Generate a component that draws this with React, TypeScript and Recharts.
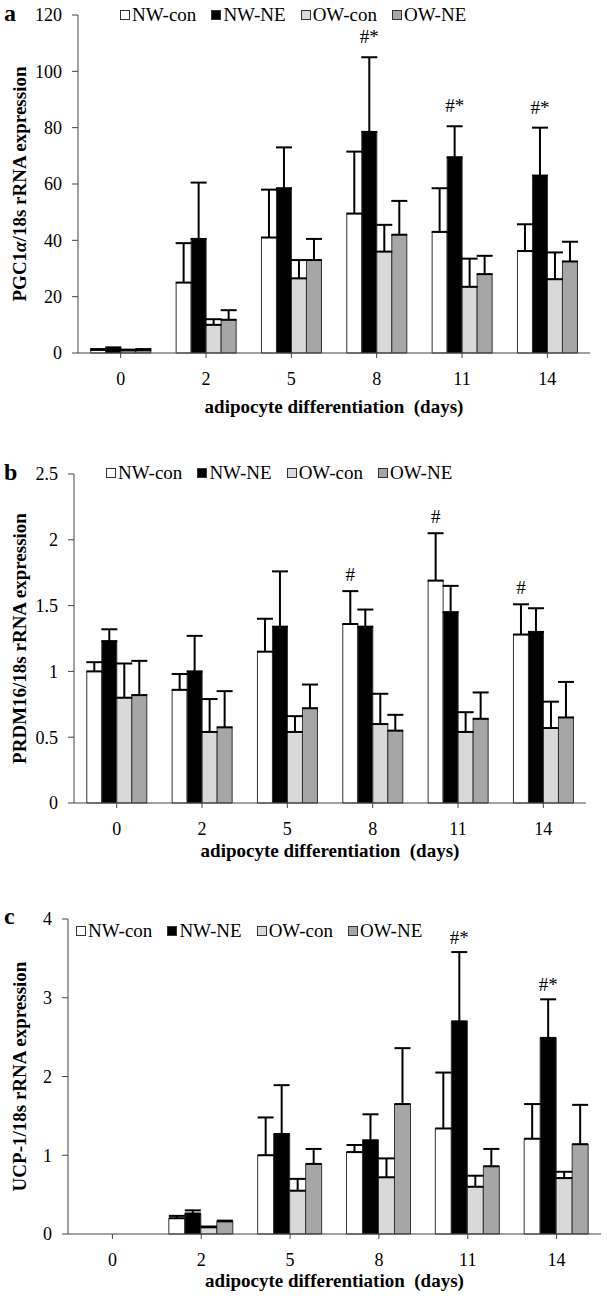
import React from 'react';
import { BarChart, Bar, XAxis, YAxis, ErrorBar, Legend, LabelList, Label } from 'recharts';

const FONT = '"Liberation Serif", "Times New Roman", Times, serif';
const W = 607;

const DAYS = ['0', '2', '5', '8', '11', '14'];
const GROUPS = ['NW-con', 'NW-NE', 'OW-con', 'OW-NE'];
const FILLS = ['#ffffff', '#000000', '#d9d9d9', '#a6a6a6'];

// a: PGC1a / 18s rRNA
const PGC_NW_CON = [1.1, 25, 41, 49.5, 43, 36.2];
const PGC_NW_NE = [1.5, 40.5, 58.5, 78.5, 69.5, 63];
const PGC_OW_CON = [0.9, 10, 26.5, 36, 23.5, 26.2];
const PGC_OW_NE = [1.0, 11.8, 33, 42, 28, 32.5];
const PGC_NW_CON_SD = [0.3, 14, 17, 22, 15.5, 9.5];
const PGC_NW_NE_SD = [0.5, 20, 14.5, 26.5, 11, 17];
const PGC_OW_CON_SD = [0.3, 2, 6.5, 9.5, 10, 9.5];
const PGC_OW_NE_SD = [0.4, 3.4, 7.5, 12, 6.5, 7];
const PGC_MARKS = ['', '', '', '#*', '#*', '#*']; // over NW-NE
const PGC_TICKS = [0, 20, 40, 60, 80, 100, 120];

// b: PRDM16 / 18s rRNA
const PRDM_NW_CON = [1.0, 0.86, 1.15, 1.36, 1.69, 1.28];
const PRDM_NW_NE = [1.23, 1.0, 1.34, 1.34, 1.45, 1.3];
const PRDM_OW_CON = [0.8, 0.54, 0.54, 0.6, 0.54, 0.57];
const PRDM_OW_NE = [0.82, 0.575, 0.72, 0.55, 0.64, 0.65];
const PRDM_NW_CON_SD = [0.07, 0.12, 0.25, 0.25, 0.36, 0.23];
const PRDM_NW_NE_SD = [0.09, 0.27, 0.42, 0.13, 0.2, 0.18];
const PRDM_OW_CON_SD = [0.26, 0.25, 0.12, 0.23, 0.15, 0.2];
const PRDM_OW_NE_SD = [0.26, 0.275, 0.18, 0.12, 0.2, 0.27];
const PRDM_MARKS = ['', '', '', '#', '#', '#']; // over NW-con
const PRDM_TICKS = [0, 0.5, 1, 1.5, 2, 2.5];

// c: UCP-1 / 18s rRNA
const UCP_NW_CON = [0, 0.2, 1.0, 1.04, 1.34, 1.21];
const UCP_NW_NE = [0, 0.26, 1.27, 1.19, 2.7, 2.49];
const UCP_OW_CON = [0, 0.085, 0.55, 0.72, 0.6, 0.71];
const UCP_OW_NE = [0, 0.16, 0.89, 1.65, 0.86, 1.14];
const UCP_NW_CON_SD = [0, 0.03, 0.48, 0.09, 0.71, 0.44];
const UCP_NW_NE_SD = [0, 0.04, 0.62, 0.33, 0.88, 0.49];
const UCP_OW_CON_SD = [0, 0.01, 0.15, 0.24, 0.14, 0.08];
const UCP_OW_NE_SD = [0, 0.01, 0.19, 0.71, 0.22, 0.5];
const UCP_MARKS = ['', '', '', '', '#*', '#*']; // over NW-NE
const UCP_TICKS = [0, 1, 2, 3, 4];

type PanelProps = {
  top: number;
  plotTop: number;
  plotBottom: number;
  plotLeft: number;
  plotRight: number;
  titleGap: number;
  values: number[][];
  sds: number[][];
  markSeries: number;
  marks: string[];
  markGap: number;
  yMax: number;
  yTicks: number[];
  yLabel: React.ReactNode;
  letter: string;
  letterTop: number;
  legendLeft: number;
  legendTop: number;
  catGap: string;
};

const AXIS_H = 64;

function legendContent() {
  return (
    <div style={{ display: 'flex', alignItems: 'center', fontFamily: FONT, fontSize: 19, color: '#000', whiteSpace: 'nowrap' }}>
      {GROUPS.map((g, k) => (
        <span key={g} style={{ display: 'inline-flex', alignItems: 'center', marginRight: k < 3 ? 15 : 0 }}>
          <span style={{ display: 'inline-block', width: 8, height: 8, background: FILLS[k], border: '1px solid #333', marginRight: 2 }} />
          {g}
        </span>
      ))}
    </div>
  );
}

// label value is the row index; the bar's own height gives px per unit
function markContent(marks: string[], vals: number[], sds: number[], gap: number) {
  return (p: any) => {
    const i = Number(p.value);
    const m = marks[i];
    if (!m) return null;
    const x = Number(p.x), y = Number(p.y), w = Number(p.width), h = Number(p.height), v = vals[i];
    const errTop = v > 0 ? y - (sds[i] * h) / v : y;
    return (
      <text key={`m${i}`} x={x + w / 2} y={errTop - gap} textAnchor="middle" fontFamily={FONT} fontSize={19} fill="#000">
        {m}
      </text>
    );
  };
}

function Panel(props: PanelProps) {
  const { top, plotTop, plotBottom, plotLeft, plotRight, titleGap, values, sds } = props;
  const height = plotBottom - top + AXIS_H;
  const rows = DAYS.map((d, i) => {
    const r: any = { day: d, idx: i };
    values.forEach((v, k) => {
      r[`v${k}`] = v[i];
      r[`e${k}`] = [0, sds[k][i]];
    });
    return r;
  });

  return (
    <div style={{ position: 'absolute', left: 0, top, width: W, height }}>
      <BarChart
        width={W}
        height={height}
        data={rows}
        margin={{ top: plotTop - top, right: W - plotRight, left: 0, bottom: 0 }}
        barGap={0}
        barCategoryGap={props.catGap}
      >
        <Legend
          layout="horizontal"
          verticalAlign="middle"
          align="center"
          content={legendContent}
          wrapperStyle={{ left: props.legendLeft, top: props.legendTop, width: 'auto' }}
        />
        <XAxis
          dataKey="day"
          height={AXIS_H}
          interval={0}
          tickSize={5}
          tickMargin={14}
          axisLine={{ stroke: '#444' }}
          tickLine={{ stroke: '#444' }}
          tick={{ fill: '#000', fontSize: 18, fontFamily: FONT }}
          label={{
            value: 'adipocyte differentiation\u00a0 (days)',
            position: 'insideBottom',
            offset: AXIS_H - titleGap,
            fill: '#000',
            fontSize: 19,
            fontWeight: 'bold',
            fontFamily: FONT,
          }}
        />
        <YAxis
          width={plotLeft}
          domain={[0, props.yMax]}
          ticks={props.yTicks}
          interval={0}
          tickSize={6}
          tickMargin={10}
          axisLine={{ stroke: '#444' }}
          tickLine={{ stroke: '#444' }}
          tick={{ fill: '#000', fontSize: 18, fontFamily: FONT }}
        >
          <Label
            content={({ viewBox }: any) => {
              const cy = viewBox.y + viewBox.height / 2;
              return (
                <text
                  x={19}
                  y={cy}
                  transform={`rotate(-90, 19, ${cy})`}
                  textAnchor="middle"
                  dominantBaseline="central"
                  fontFamily={FONT}
                  fontWeight="bold"
                  fontSize={19}
                  fill="#000"
                >
                  {props.yLabel}
                </text>
              );
            }}
          />
        </YAxis>
        {GROUPS.map((g, k) => (
          <Bar key={g} dataKey={`v${k}`} name={g} fill={FILLS[k]} stroke="#333" strokeWidth={1} isAnimationActive={false}>
            <ErrorBar dataKey={`e${k}`} width={8} strokeWidth={2} stroke="#000" direction="y" />
            {k === props.markSeries && (
              <LabelList dataKey="idx" content={markContent(props.marks, values[k], sds[k], props.markGap)} />
            )}
          </Bar>
        ))}
      </BarChart>
      <div
        style={{
          position: 'absolute',
          left: 4,
          top: props.letterTop,
          fontFamily: FONT,
          fontWeight: 'bold',
          fontSize: 24,
          lineHeight: 1,
          color: '#000',
        }}
      >
        {props.letter}
      </div>
    </div>
  );
}

export default function App() {
  return (
    <div style={{ position: 'absolute', left: 0, top: 0, width: W, height: 1299, background: '#fff', overflow: 'hidden' }}>
      <Panel
        top={0}
        plotTop={15}
        plotBottom={353}
        plotLeft={78}
        plotRight={590}
        titleGap={60}
        values={[PGC_NW_CON, PGC_NW_NE, PGC_OW_CON, PGC_OW_NE]}
        sds={[PGC_NW_CON_SD, PGC_NW_NE_SD, PGC_OW_CON_SD, PGC_OW_NE_SD]}
        markSeries={1}
        marks={PGC_MARKS}
        markGap={14}
        yMax={120}
        yTicks={PGC_TICKS}
        yLabel={<>PGC1<tspan fontStyle="italic">α</tspan>/18s rRNA expression</>}
        letter="a"
        letterTop={1}
        legendLeft={120}
        legendTop={4}
        catGap="15%"
      />
      <Panel
        top={440}
        plotTop={474}
        plotBottom={803}
        plotLeft={74}
        plotRight={586}
        titleGap={54}
        values={[PRDM_NW_CON, PRDM_NW_NE, PRDM_OW_CON, PRDM_OW_NE]}
        sds={[PRDM_NW_CON_SD, PRDM_NW_NE_SD, PRDM_OW_CON_SD, PRDM_OW_NE_SD]}
        markSeries={0}
        marks={PRDM_MARKS}
        markGap={10}
        yMax={2.5}
        yTicks={PRDM_TICKS}
        yLabel="PRDM16/18s rRNA expression"
        letter="b"
        letterTop={20}
        legendLeft={106}
        legendTop={22}
        catGap="15%"
      />
      <Panel
        top={880}
        plotTop={919}
        plotBottom={1234}
        plotLeft={68}
        plotRight={601}
        titleGap={53}
        values={[UCP_NW_CON, UCP_NW_NE, UCP_OW_CON, UCP_OW_NE]}
        sds={[UCP_NW_CON_SD, UCP_NW_NE_SD, UCP_OW_CON_SD, UCP_OW_NE_SD]}
        markSeries={1}
        marks={UCP_MARKS}
        markGap={8}
        yMax={4}
        yTicks={UCP_TICKS}
        yLabel="UCP-1/18s rRNA expression"
        letter="c"
        letterTop={24}
        legendLeft={76}
        legendTop={40}
        catGap="13.5%"
      />
    </div>
  );
}
